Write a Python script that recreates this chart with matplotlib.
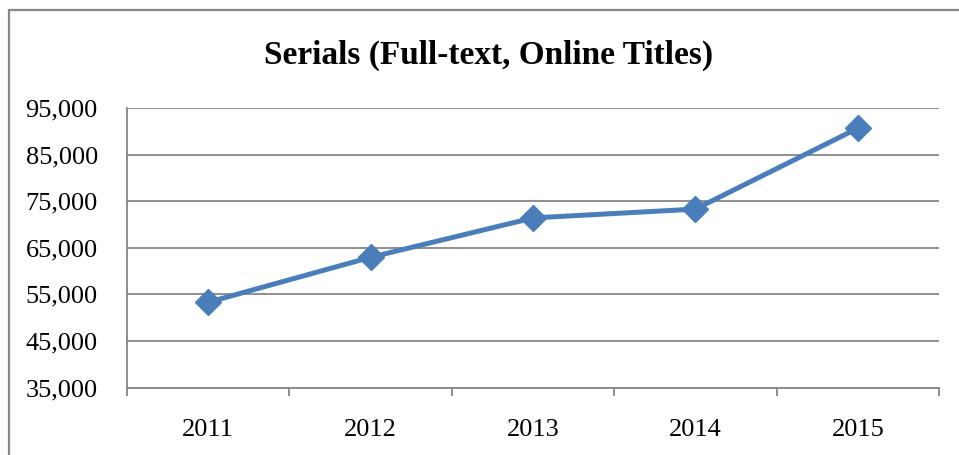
import matplotlib
matplotlib.use("Agg")
import matplotlib.pyplot as plt
import matplotlib.patches as mpatches
from matplotlib.ticker import FuncFormatter, FixedLocator

# data
years = ["2011", "2012", "2013", "2014", "2015"]
titles = [53300, 62950, 71400, 73300, 90650]
y_ticks = [35000, 45000, 55000, 65000, 75000, 85000, 95000]

plt.rcParams["font.family"] = ["Liberation Serif", "DejaVu Serif"]

fig = plt.figure(figsize=(9.59, 4.55), dpi=100)
ax = fig.add_axes([127 / 959, 1 - 387.5 / 455, (939 - 127) / 959, (387.5 - 108) / 455])

# outer chart frame
frame = mpatches.Rectangle((8.5 / 959, -0.1), 1.2, 1 - 9.5 / 455 + 0.1,
                           transform=fig.transFigure, fill=False,
                           edgecolor="#878787", linewidth=1.6, zorder=0)
fig.patches.append(frame)

x = range(len(years))
ax.plot(x, titles, color="#4A7EBB", linewidth=3.6, marker="D", markersize=13,
        solid_joinstyle="round", zorder=3)

ax.set_ylim(y_ticks[0], y_ticks[-1])
ax.set_xlim(-0.5, len(years) - 0.5)
ax.yaxis.set_major_locator(FixedLocator(y_ticks))
ax.yaxis.set_major_formatter(FuncFormatter(lambda v, p: f"{int(v):,}"))
ax.set_xticks(list(x))
ax.set_xticklabels(years)
ax.xaxis.set_minor_locator(FixedLocator([i - 0.5 for i in range(len(years) + 1)]))

ax.grid(axis="y", color="#868686", linewidth=1.3)
ax.set_axisbelow(True)
for s in ["top", "right"]:
    ax.spines[s].set_visible(False)
for s in ["left", "bottom"]:
    ax.spines[s].set_color("#868686")
    ax.spines[s].set_linewidth(1.3)

ax.tick_params(axis="y", length=0, pad=21, labelsize=19)
ax.tick_params(axis="x", which="major", length=0, pad=23, labelsize=19)
ax.tick_params(axis="x", which="minor", length=6, width=1.3, color="#868686")

fig.text(489 / 959, 1 - 55 / 455, "Serials (Full-text, Online Titles)",
         ha="center", va="center", fontsize=24, fontweight="bold")

fig.savefig("out.png", dpi=100)
